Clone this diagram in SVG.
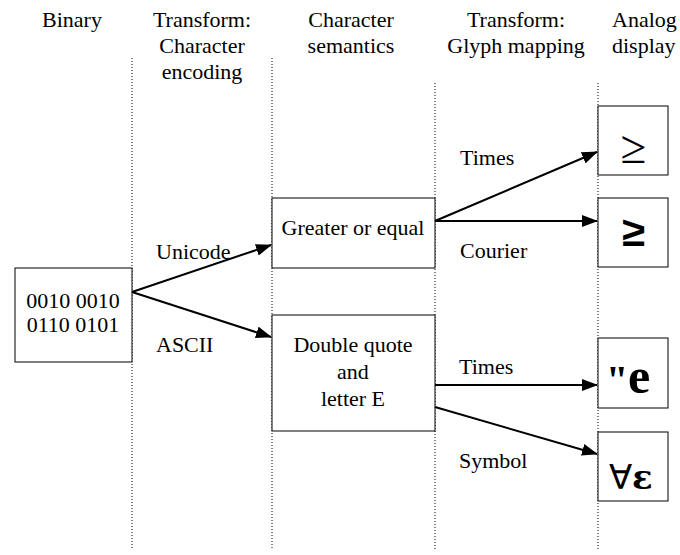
<svg xmlns="http://www.w3.org/2000/svg" width="680" height="555" viewBox="0 0 680 555">
<style>
text{font-family:"Liberation Serif","Times New Roman",serif;font-size:22px;fill:#000}
.c{text-anchor:middle}
.box{fill:#fff;stroke:#000;stroke-width:1}
.dot{stroke:#000;stroke-width:1;stroke-dasharray:1 2;fill:none}
.arr{stroke:#000;stroke-width:2;fill:none;marker-end:url(#ah)}
</style>
<defs>
<marker id="ah" markerWidth="16" markerHeight="12" refX="15" refY="6" orient="auto" markerUnits="userSpaceOnUse">
<path d="M0,0 L16,6 L0,12 Z" fill="#000"/>
</marker>
</defs>
<rect width="680" height="555" fill="#fff"/>
<g id="headers">
<text class="c" x="72" y="27">Binary</text>
<text class="c" x="202" y="27">Transform:</text>
<text class="c" x="202" y="53">Character</text>
<text class="c" x="202" y="79">encoding</text>
<text class="c" x="351" y="27">Character</text>
<text class="c" x="351" y="53">semantics</text>
<text class="c" x="516" y="27">Transform:</text>
<text class="c" x="516" y="53">Glyph mapping</text>
<text x="612" y="27">Analog</text>
<text x="612" y="53">display</text>
</g>
<g id="dividers">
<line class="dot" x1="132" y1="58" x2="132" y2="550"/>
<line class="dot" x1="272" y1="58" x2="272" y2="550"/>
<line class="dot" x1="435" y1="83" x2="435" y2="550"/>
<line class="dot" x1="598" y1="83" x2="598" y2="550"/>
</g>
<g id="binary">
<rect class="box" x="15" y="268" width="117" height="94"/>
<text class="c" x="73" y="308">0010 0010</text>
<text class="c" x="73" y="332">0110 0101</text>
</g>
<g id="greater">
<rect class="box" x="272" y="198" width="163" height="70"/>
<text class="c" x="353" y="235">Greater or equal</text>
</g>
<g id="double">
<rect class="box" x="272" y="315" width="163" height="116"/>
<text class="c" x="353" y="352">Double quote</text>
<text class="c" x="353" y="379">and</text>
<text class="c" x="353" y="406">letter E</text>
</g>
<g id="out-times-ge">
<rect class="box" x="598" y="106" width="70" height="69"/>
<text class="c" x="633.5" y="163" style="font-size:47px">≥</text>
</g>
<g id="out-courier-ge">
<rect class="box" x="598" y="198" width="70" height="69"/>
<text class="c" x="633.5" y="246" style="font-family:'Liberation Mono',monospace;font-size:42px;font-weight:bold">≥</text>
</g>
<g id="out-times-qe">
<rect class="box" x="598" y="338" width="70" height="70"/>
<text y="393" style="font-weight:bold"><tspan x="606" style="font-size:40px">"</tspan><tspan x="628" style="font-size:50px">e</tspan></text>
</g>
<g id="out-symbol">
<rect class="box" x="598" y="432" width="70" height="69"/>
<text y="489"><tspan x="609" style="font-family:'DejaVu Sans',sans-serif;font-size:34px">∀</tspan><tspan x="632" style="font-family:'DejaVu Serif',serif;font-size:34px;font-weight:bold">ε</tspan></text>
</g>
<g id="connectors">
<line class="arr" x1="132" y1="292" x2="271" y2="245"/>
<line class="arr" x1="132" y1="292" x2="271" y2="337"/>
<line class="arr" x1="435" y1="221" x2="597" y2="152"/>
<line class="arr" x1="435" y1="221" x2="597" y2="221"/>
<line class="arr" x1="435" y1="385" x2="597" y2="385"/>
<line class="arr" x1="435" y1="407" x2="597" y2="454"/>
</g>
<g id="labels">
<text x="156" y="259">Unicode</text>
<text x="156" y="352">ASCII</text>
<text x="460" y="165">Times</text>
<text x="460" y="258">Courier</text>
<text x="459" y="374">Times</text>
<text x="459" y="468">Symbol</text>
</g>
</svg>
